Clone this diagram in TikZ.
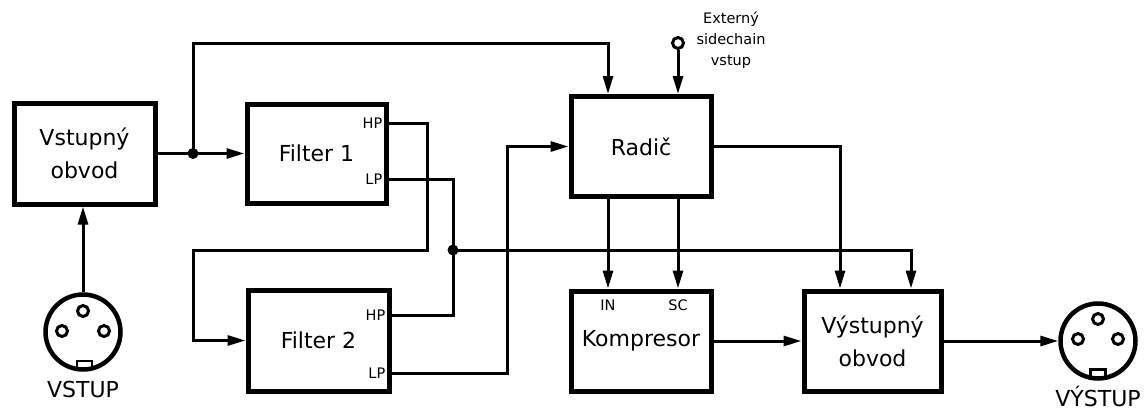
\documentclass[tikz,border=0pt]{standalone}
\usepackage{fontspec}
\setmainfont{DejaVu Sans}
\usetikzlibrary{arrows.meta,calc}
\begin{document}
\begin{tikzpicture}[x=1pt,y=-1pt,
  blk/.style={draw,line width=5pt,minimum width=140pt,minimum height=100pt,inner sep=0pt,align=center,font=\fontsize{22}{33}\selectfont},
  wire/.style={line width=3pt},
  arr/.style={wire,-{Triangle[length=18pt,width=10pt]}},
  lbl/.style={font=\fontsize{14.5}{21}\selectfont,inner sep=0pt},
  big/.style={font=\fontsize{22}{25}\selectfont,inner sep=0pt},
  dot/.style={circle,fill,inner sep=0pt,minimum size=11pt},
  pin/.style={circle,draw,line width=3pt,inner sep=0pt,minimum size=11pt},
  xlr/.style={circle,draw,line width=4.5pt,inner sep=0pt,minimum size=75pt},
  key/.style={draw,line width=2.8pt,inner sep=0pt,minimum width=15pt,minimum height=8pt},
]
\useasboundingbox (0,0) rectangle (1148,410);

% blocks
\node[blk,minimum width=141pt,minimum height=101pt] (vin) at (84.5,153.5) {Vstupný\\obvod};
\node[blk,minimum width=139pt,minimum height=99pt] (f1) at (316.5,153.5) {Filter 1};
\node[blk,minimum width=141pt,minimum height=101pt] (f2) at (318.5,340.5) {Filter 2};
\node[blk] (rad) at (641,146.5) {Radič};
\node[blk] (komp) at (641,341) {\raisebox{-3pt}{Kompresor}};
\node[blk,minimum width=137pt] (vout) at (872.5,341) {Výstupný\\obvod};

% port labels
\node[lbl,anchor=east] (f1hpl) at ($(f1.east)+(-6,-30.5)$) {HP};
\node[lbl,anchor=east] (f1lpl) at ($(f1.east)+(-6,25.5)$) {LP};
\node[lbl,anchor=east] (f2hpl) at ($(f2.east)+(-6,-25.5)$) {HP};
\node[lbl,anchor=east] (f2lpl) at ($(f2.east)+(-6,32.5)$) {LP};
\node[lbl] (inl) at (608,305) {IN};
\node[lbl] (scl) at (678,305) {SC};

% connectors (XLR)
\node[xlr] (xin) at (83,332) {};
\node[pin] (xin1) at (83,311) {};
\node[pin] (xin2) at (62,331) {};
\node[pin] (xin3) at (104,331) {};
\node[key] (xin4) at (84.5,365) {};
\node[big] (vstl) at (83,389) {VSTUP};

\node[xlr] (xout) at (1098,341) {};
\node[pin] (xout1) at (1098,319) {};
\node[pin] (xout2) at (1078,339) {};
\node[pin] (xout3) at (1118,339) {};
\node[key,minimum height=9pt] (xout4) at (1098,374) {};
\node[big] (vysl) at (1098,396) {VÝSTUP};

% sidechain input
\node[pin,minimum size=11pt] (sc) at (678,43) {};
\node[lbl,align=center] (ext) at (731,40) {Externý\\sidechain\\vstup};

% coordinates
\coordinate (j1) at (193,153.5);
\coordinate (j2) at (453,250);
\coordinate (topc) at (608,43);
\coordinate (b1) at (427,250);
\coordinate (b2) at (193,250);
\coordinate (c507) at (507,0);
\coordinate (cin) at (608,0);
\coordinate (csc) at (678,0);
\coordinate (c840) at (840,0);
\coordinate (c911) at (911,0);
\coordinate (f1hp) at ($(f1.east)+(0,-30.5)$);
\coordinate (f1lp) at ($(f1.east)+(0,25.5)$);
\coordinate (f2hp) at ($(f2.east)+(0,-25.5)$);
\coordinate (f2lp) at ($(f2.east)+(0,32.5)$);

% wires
\draw[arr] (xin.north) -- (xin.north |- vin.south);
\draw[arr] (vin.east) -- (f1.west);
\draw[arr] (j1) |- (topc) -- (topc |- rad.north);
\draw[arr] (sc.south) -- (sc.south |- rad.north);
\draw[arr] (f1hp) -| (b1) -- (b2) |- (f2.west);
\draw[wire] (f1lp) -| (j2);
\draw[wire] (f2hp) -| (j2);
\draw[arr] (j2) -| (vout.north -| c911);
\draw[arr] (f2lp) -| (c507 |- rad.west) -- (rad.west);
\draw[arr] (rad.south -| cin) -- (komp.north -| cin);
\draw[arr] (rad.south -| csc) -- (komp.north -| csc);
\draw[arr] (rad.east) -| (vout.north -| c840);
\draw[arr] (komp.east) -- (vout.west);
\draw[arr] (vout.east) -- (xout.west);

\node[dot] (j1d) at (j1) {};
\node[dot] (j2d) at (j2) {};
\end{tikzpicture}
\end{document}
